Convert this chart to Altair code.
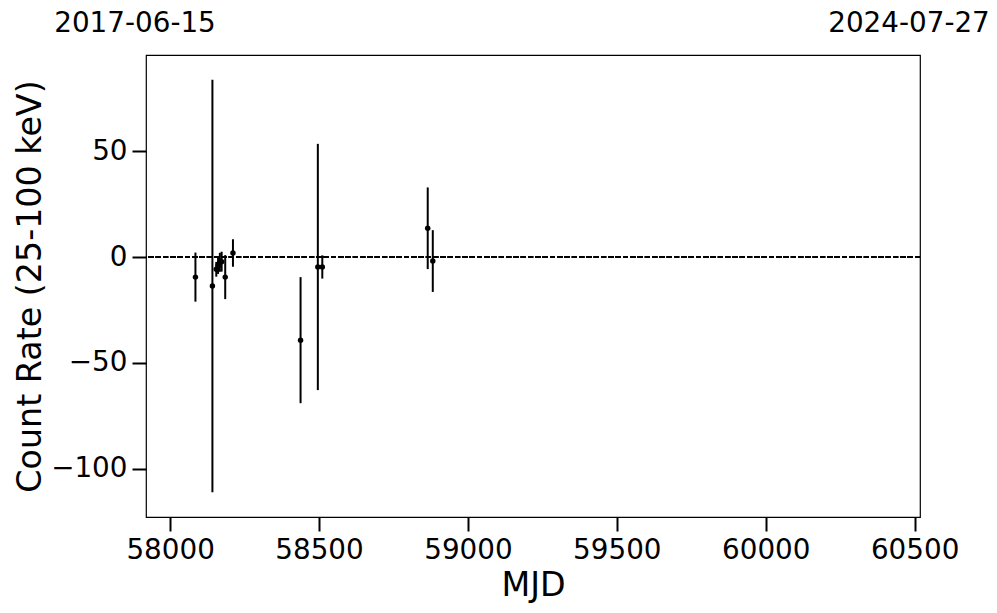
import altair as alt
import pandas as pd

mjd = [58085, 58142, 58155, 58161, 58167, 58173, 58185, 58211, 58438, 58496, 58511, 58865, 58882]
rate = [-9.5, -13.7, -5.8, -4.0, -2.5, -2.2, -9.5, 1.9, -39.3, -4.7, -4.7, 13.6, -1.9]
err = [11.6, 97.5, 3.5, 4.0, 4.5, 4.7, 10.4, 6.5, 29.8, 58.2, 5.5, 19.3, 14.6]

# Date range labels at the x-limits
date_mjd = [57919, 60518]
date_labels = ["2017-06-15", "2024-07-27"]

x_ticks = [58000, 58500, 59000, 59500, 60000, 60500]
y_ticks = [-100, -50, 0, 50]

df = pd.DataFrame({"mjd": mjd, "rate": rate, "err": err})
df["lo"] = df["rate"] - df["err"]
df["hi"] = df["rate"] + df["err"]
dates = pd.DataFrame({"mjd": date_mjd, "label": date_labels})

FONT = "DejaVu Sans"
TICK_FS = 27.8
TITLE_FS = 33.3

xscale = alt.Scale(domain=[57919, 60518], nice=False, zero=False)
yscale = alt.Scale(domain=[-122.9, 95.5], nice=False, zero=False)

xaxis = alt.Axis(values=x_ticks, format="d", title="MJD", grid=False, domain=False,
                 labelFontSize=TICK_FS, titleFontSize=TITLE_FS, titleFontWeight="normal",
                 tickSize=14, tickWidth=2, tickColor="black", labelColor="black",
                 titleColor="black", labelPadding=5, titlePadding=6,
                 labelFont=FONT, titleFont=FONT, labelFlush=False)
yaxis = alt.Axis(values=y_ticks, format="d", title="Count Rate (25-100 keV)", grid=False,
                 domain=False, labelFontSize=TICK_FS, titleFontSize=TITLE_FS,
                 titleFontWeight="normal",
                 tickSize=14, tickWidth=2, tickColor="black", labelColor="black",
                 titleColor="black", labelPadding=5, titlePadding=3,
                 labelFont=FONT, titleFont=FONT, labelFlush=False)

base = alt.Chart(df)

zero = base.mark_rule(color="black", strokeWidth=1.4, strokeDash=[5, 2.3]).encode(
    y=alt.datum(0, scale=yscale, axis=yaxis)
)

bars = base.mark_rule(color="black", strokeWidth=2).encode(
    x=alt.X("mjd:Q", scale=xscale, axis=xaxis),
    y=alt.Y("lo:Q", scale=yscale, axis=yaxis),
    y2="hi:Q",
)

pts = base.mark_circle(color="black", opacity=1, size=30).encode(
    x=alt.X("mjd:Q", scale=xscale, axis=xaxis),
    y=alt.Y("rate:Q", scale=yscale, axis=yaxis),
)

top = alt.Chart(dates).mark_text(font=FONT, fontSize=TICK_FS, color="black", align="center",
                                 baseline="middle", dx=-11).encode(
    x=alt.X("mjd:Q", scale=xscale, axis=xaxis),
    y=alt.value(-31),
    text="label:N",
)

chart = alt.layer(zero, bars, pts, top).properties(
    width=774, height=462,
    background="white",
    autosize=alt.AutoSizeParams(type="none"),
    padding={"left": 138, "top": 47, "right": 69, "bottom": 92},
).configure_view(stroke="black", strokeWidth=1.2)

chart.save("out.html", embed_options={"renderer": "svg", "actions": False})
